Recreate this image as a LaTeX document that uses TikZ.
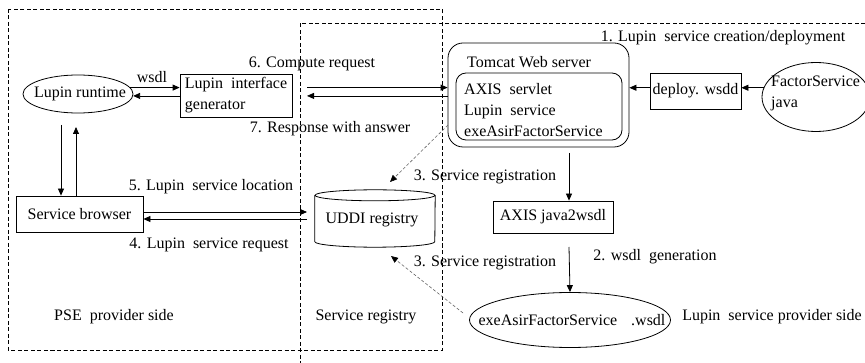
\documentclass[tikz,border=0pt]{standalone}
\usepackage{fontspec}
\setmainfont{Liberation Serif}
\usetikzlibrary{arrows.meta,calc,shapes.geometric}
\begin{document}
\begin{tikzpicture}[x=1pt,y=-1pt,
  every node/.style={font=\fontsize{16}{21}\selectfont},
  box/.style={draw, line width=0.8pt, inner sep=0pt},
  ell/.style={draw, ellipse, line width=0.8pt, inner sep=0pt},
  lab/.style={inner sep=0pt},
  arr/.style={line width=0.8pt, -{Triangle[length=7pt,width=6pt]}},
  darr/.style={black!60, line width=0.6pt, dash pattern=on 3pt off 2pt, -{Triangle[length=7pt,width=6pt,black]}},
  region/.style={line width=0.8pt, dash pattern=on 4pt off 2.5pt}]
\useasboundingbox[fill=white] (0,0) rectangle (865,363);

% regions
\draw[region] (8,9) rectangle (442,350);
\coordinate (srtop) at (300,23);
\coordinate (srright) at (865,23);
\coordinate (srbot) at (300,363);
\draw[region] (srright) -- (srtop) -- (srbot);

% nodes
\node[ell, minimum width=110pt, minimum height=38pt] (rt) at (78,94) {};
\node[lab] (rtt) at (80,94) {Lupin runtime};

\node[box, minimum width=112pt, minimum height=43pt, align=left] (gen) at (236,95.5) {Lupin\ \ interface\\generator};

\node[box, rounded corners=15pt, minimum width=181pt, minimum height=104pt] (tom) at (538.5,95) {};
\node[lab, anchor=west] (tomt) at (467,62) {Tomcat Web server};
\node[box, rounded corners=10pt, minimum width=166pt, minimum height=67pt] (inner) at (539,106.5) {};
\node[lab, anchor=west, align=left] (innert) at (464,110) {AXIS\ \ servlet\\Lupin\ \ service\\exeAsirFactorService};

\node[box, minimum width=91pt, minimum height=36pt] (dep) at (695.5,91) {deploy. wsdd};
\node[ell, minimum width=108pt, minimum height=69pt] (fs) at (816,97) {};
\node[lab, anchor=west, align=left] (fst) at (771,93) {FactorService\\java};

\node[box, minimum width=120pt, minimum height=32pt] (axis) at (553,217) {AXIS java2wsdl};
\node[ell, minimum width=201pt, minimum height=55pt] (ws) at (570,320) {};
\node[lab] (wst) at (572,320) {exeAsirFactorService\hspace{14pt}.wsdl};

\node[box, minimum width=127pt, minimum height=36pt] (sb) at (79.5,214) {Service browser};

% UDDI cylinder
\node[inner sep=0pt, minimum width=120pt, minimum height=57pt] (uddi) at (375,218.5) {};
\draw[line width=0.8pt] ([yshift=-5.5pt]uddi.north) ellipse [x radius=60pt, y radius=5.5pt];
\draw[line width=0.8pt] ([yshift=-5.5pt]uddi.north west) -- ([yshift=5.5pt]uddi.south west)
  arc[start angle=180, end angle=360, x radius=60pt, y radius=5.5pt] -- ([yshift=-5.5pt]uddi.north east);
\node[lab] (uddit) at (372,220) {UDDI registry};

% labels
\node[lab] (lwsdl) at (152,77) {wsdl};
\node[lab] (l6) at (312,64) {6. Compute request};
\node[lab] (l7) at (330,129) {7. Response with answer};
\node[lab] (l1) at (723,38) {1. Lupin\ \ service creation/deployment};
\node[lab] (l3a) at (485,177) {3. Service registration};
\node[lab] (l3b) at (485,263) {3. Service registration};
\node[lab] (l5) at (211,187) {5. Lupin\ \ service location};
\node[lab] (l4) at (209,245) {4. Lupin\ \ service request};
\node[lab] (l2) at (655,257) {2. wsdl\ \ generation};
\node[lab] (lprov) at (772,317) {Lupin\ \ service provider side};
\node[lab] (lpse) at (114,317) {PSE\ \ provider side};
\node[lab] (lsr) at (366,317) {Service registry};

% connectors: runtime <-> generator
\draw[arr] (rt.7) -- (rt.7 -| gen.west);
\draw[arr] (gen.west |- rt.-2) -- (rt.-2);

% generator <-> tomcat
\coordinate (gx) at (307,91);
\draw[arr] (gx |- rt.7) -- (tom.west |- rt.7);
\draw[arr] (tom.west |- rt.-2) -- (gx |- rt.-2);

% factor -> deploy -> tomcat
\draw[arr] (fs.170) -- (fs.170 -| dep.east);
\draw[arr] (fs.170 -| dep.west) -- (fs.170 -| tom.east);

% runtime <-> browser
\coordinate (dstart) at (61,125);
\coordinate (uend) at (76,127);
\draw[arr] (dstart) -- (dstart |- sb.north);
\draw[arr] (uend |- sb.north) -- (uend);

% browser <-> uddi
\coordinate (ux) at (307,212);
\coordinate (lx) at (307,219);
\draw[arr] (sb.east |- ux) -- (ux);
\draw[arr] (lx) -- (sb.east |- lx);

% tomcat -> axis -> wsdl
\coordinate (tdown) at (569,153);
\draw[arr] (tdown) -- (tdown |- axis.north);
\coordinate (adown) at (569,247);
\draw[arr] (adown) -- (ws.north);

% registrations
\coordinate (r1s) at (448,125);
\coordinate (r1e) at (390,182);
\draw[darr] (r1s) -- (r1e);
\coordinate (r2s) at (463,313);
\coordinate (r2e) at (391,256);
\draw[darr] (r2s) -- (r2e);
\end{tikzpicture}
\end{document}
